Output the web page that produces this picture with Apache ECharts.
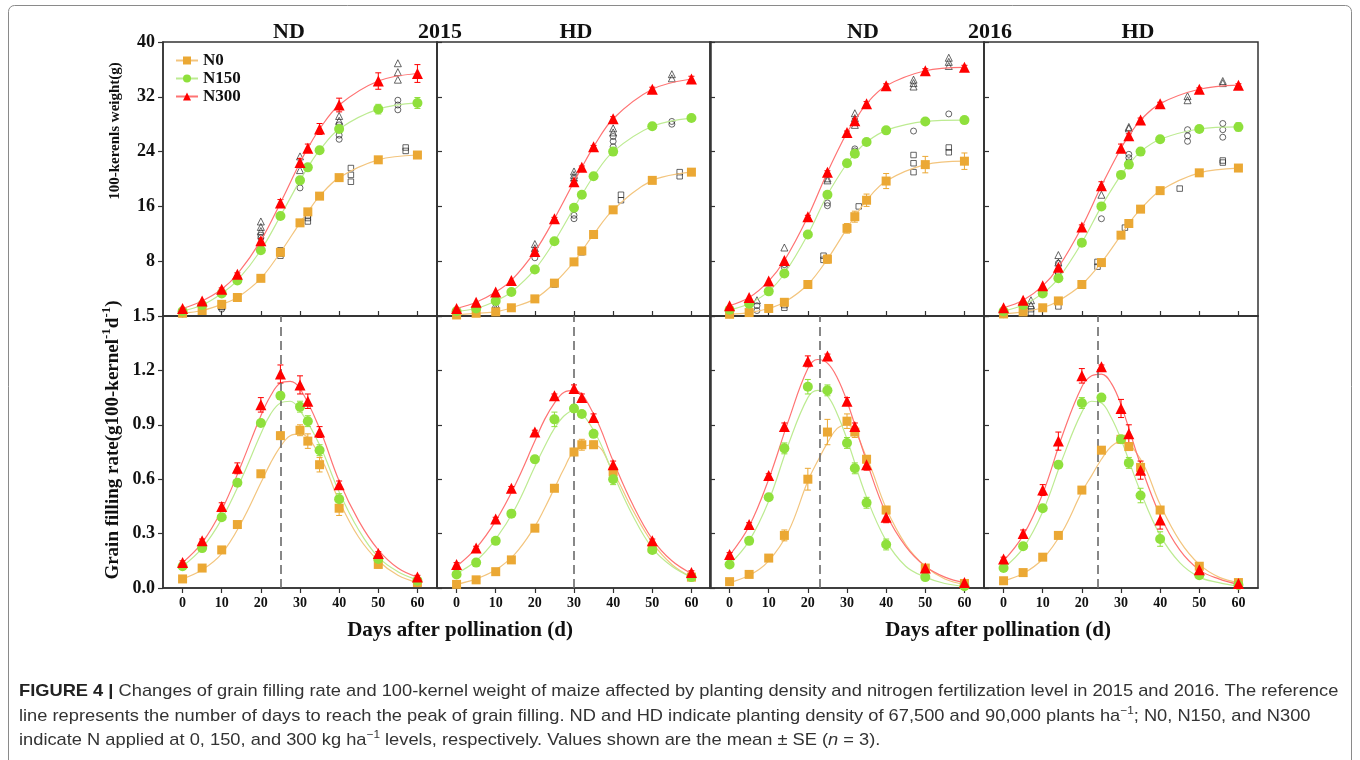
<!DOCTYPE html>
<html>
<head>
<meta charset="utf-8">
<script src="https://cdn.jsdelivr.net/npm/echarts@6/dist/echarts.min.js"></script>
<style>
html,body{margin:0;padding:0;background:#fff;}
#main{width:1360px;height:760px;}
</style>
</head>
<body>
<div id="main"></div>
<script>
// sampling days (markers) and days at which the fitted curves were read
var DAYS = [0, 5, 10, 14, 20, 25, 30, 32, 35, 40, 50, 60];
var CURVE_DAYS = [0, 5, 10, 15, 20, 22.5, 25, 27.5, 30, 35, 40, 45, 50, 55, 60];
var PANEL_TITLES = ['ND', 'HD', 'ND', 'HD'];
var YEARS = ['2015', '2016'];
var PEAK_DAYS = [25, 30, 23, 24];
var DAY_TICKS = [0, 10, 20, 30, 40, 50, 60];

// 100-kernel weight (g); panels: ND2015, HD2015, ND2016, HD2016
var wN0 = [
	[0.4, 0.8, 1.7, 2.7, 5.5, 9.3, 13.6, 15.2, 17.5, 20.2, 22.8, 23.5],
	[0.15, 0.4, 0.6, 1.2, 2.5, 4.8, 7.9, 9.5, 11.9, 15.5, 19.8, 21.0],
	[0.25, 0.5, 1.1, 2.0, 4.6, 8.3, 12.8, 14.5, 16.9, 19.7, 22.1, 22.6],
	[0.3, 0.6, 1.2, 2.2, 4.6, 7.8, 11.8, 13.5, 15.6, 18.3, 20.9, 21.6]
];
var wN150 = [
	[0.7, 1.6, 3.3, 5.2, 9.6, 14.6, 19.8, 21.7, 24.2, 27.3, 30.2, 31.1],
	[0.7, 1.1, 2.2, 3.5, 6.8, 10.9, 15.8, 17.7, 20.4, 24.0, 27.7, 28.9],
	[0.9, 1.8, 3.6, 6.2, 11.9, 17.7, 22.3, 23.7, 25.4, 27.1, 28.4, 28.6],
	[0.7, 1.6, 3.3, 5.5, 10.7, 16.0, 20.6, 22.1, 24.0, 25.8, 27.3, 27.6]
];
var wN300 = [
	[1.1, 2.2, 3.9, 6.1, 11.0, 16.5, 22.4, 24.5, 27.3, 30.8, 34.3, 35.4],
	[1.1, 2.0, 3.5, 5.2, 9.4, 14.2, 19.6, 21.7, 24.7, 28.8, 33.1, 34.6],
	[1.5, 2.7, 5.1, 8.1, 14.5, 21.0, 26.8, 28.5, 31.0, 33.6, 35.8, 36.3],
	[1.2, 2.3, 4.4, 7.1, 13.0, 19.0, 24.5, 26.3, 28.6, 31.0, 33.1, 33.7]
];
// SE of weight
var ewN0 = [
	[0, 0, 0, 0, 0, 0.3, 0.3, 0.4, 0.3, 0.3, 0.4, 0.5],
	[0, 0, 0, 0, 0, 0, 0.2, 0.2, 0.2, 0.2, 0.2, 0.3],
	[0, 0, 0, 0, 0.2, 0.6, 0.7, 0.8, 0.9, 1.1, 1.2, 1.2],
	[0, 0, 0, 0, 0, 0.2, 0.2, 0.2, 0.2, 0.2, 0.2, 0.3]
];
var ewN150 = [
	[0, 0, 0, 0, 0.2, 0.3, 0.4, 0.4, 0.3, 0.5, 0.7, 0.8],
	[0, 0, 0, 0, 0, 0.2, 0.2, 0.2, 0.2, 0.2, 0.2, 0.2],
	[0, 0, 0, 0, 0, 0.2, 0.2, 0.2, 0.2, 0.2, 0.2, 0.2],
	[0, 0, 0, 0, 0, 0.2, 0.2, 0.2, 0.2, 0.2, 0.3, 0.6]
];
var ewN300 = [
	[0, 0, 0.2, 0.2, 0.3, 0.5, 0.6, 0.6, 0.8, 1.0, 1.2, 1.3],
	[0, 0, 0, 0, 0.2, 0.2, 0.2, 0.2, 0.2, 0.3, 0.3, 0.4],
	[0, 0, 0, 0, 0.2, 0.2, 0.2, 0.3, 0.3, 0.3, 0.3, 0.3],
	[0, 0, 0, 0, 0.3, 0.6, 0.6, 0.3, 0.3, 0.2, 0.2, 0.2]
];

// single replicates (hollow marks), [day, weight]
var repTri = [
	[[10, 1.5], [20, 13.8], [20, 13.0], [20, 12.4], [30, 23.3], [30, 22.3], [30, 21.3], [40, 29.2], [40, 28.5], [55, 36.9], [55, 35.6], [55, 34.5]],
	[[10, 1.7], [10, 1.1], [20, 10.5], [20, 9.9], [30, 21.1], [30, 20.6], [30, 20.2], [40, 27.4], [40, 26.8], [55, 35.3], [55, 34.7]],
	[[7, 2.3], [14, 10.0], [25, 20.1], [25, 19.8], [32, 29.6], [32, 28.9], [32, 27.9], [47, 34.5], [47, 34.0], [47, 33.5], [56, 37.7], [56, 37.1], [56, 36.5]],
	[[7, 2.3], [7, 1.6], [14, 8.9], [14, 7.8], [25, 19.1], [25, 17.7], [32, 27.4], [32, 27.6], [47, 32.1], [47, 31.5], [56, 34.3], [56, 34.0]]
];
var repCir = [
	[[0, 0.3], [10, 1.0], [20, 11.8], [20, 11.4], [30, 18.7], [40, 27.9], [40, 27.2], [40, 26.4], [40, 25.8], [55, 31.5], [55, 30.8], [55, 30.1]],
	[[0, 0.3], [20, 8.5], [30, 14.7], [30, 14.2], [40, 26.2], [40, 25.5], [40, 24.7], [55, 28.4], [55, 28.0]],
	[[0, 0.2], [7, 1.5], [7, 0.8], [14, 7.5], [14, 7.1], [25, 17.7], [25, 16.5], [25, 16.1], [32, 24.4], [32, 24.1], [47, 27.0], [56, 29.5]],
	[[0, 0.2], [14, 7.7], [25, 15.9], [25, 14.2], [32, 23.6], [32, 23.1], [32, 22.5], [47, 27.2], [47, 26.3], [47, 25.5], [56, 28.1], [56, 27.2], [56, 26.1]]
];
var repSq = [
	[[10, 1.8], [10, 1.3], [25, 9.6], [25, 9.1], [25, 8.8], [32, 14.7], [32, 14.3], [32, 13.8], [43, 21.6], [43, 20.6], [43, 19.6], [57, 24.6], [57, 24.1]],
	[[10, 0.7], [25, 4.8], [25, 4.6], [32, 9.6], [32, 9.3], [42, 17.7], [42, 16.9], [57, 21.0], [57, 20.4]],
	[[14, 1.6], [14, 1.2], [24, 8.8], [24, 8.2], [33, 16.0], [47, 23.5], [47, 22.3], [47, 21.0], [56, 24.6], [56, 23.9]],
	[[7, 1.0], [7, 0.5], [14, 6.5], [14, 6.2], [14, 1.4], [24, 7.9], [24, 7.2], [31, 12.9], [45, 18.6], [56, 22.7], [56, 22.4]]
];

// grain filling rate (g 100-kernel-1 d-1)
var rN0 = [
	[0.05, 0.11, 0.21, 0.35, 0.63, 0.84, 0.87, 0.81, 0.68, 0.44, 0.13, 0.03],
	[0.02, 0.045, 0.09, 0.155, 0.33, 0.55, 0.75, 0.79, 0.79, 0.64, 0.22, 0.06],
	[0.035, 0.075, 0.165, 0.29, 0.60, 0.86, 0.92, 0.86, 0.71, 0.43, 0.11, 0.025],
	[0.04, 0.085, 0.17, 0.29, 0.54, 0.76, 0.82, 0.78, 0.665, 0.43, 0.12, 0.03]
];
var rN150 = [
	[0.12, 0.22, 0.39, 0.58, 0.91, 1.06, 1.00, 0.92, 0.76, 0.49, 0.16, 0.04],
	[0.075, 0.14, 0.26, 0.41, 0.71, 0.93, 0.99, 0.96, 0.85, 0.60, 0.21, 0.06],
	[0.13, 0.26, 0.50, 0.77, 1.11, 1.09, 0.80, 0.66, 0.47, 0.24, 0.06, 0.01],
	[0.11, 0.23, 0.44, 0.68, 1.02, 1.05, 0.82, 0.69, 0.51, 0.27, 0.07, 0.017]
];
var rN300 = [
	[0.14, 0.26, 0.45, 0.66, 1.01, 1.18, 1.12, 1.03, 0.86, 0.57, 0.19, 0.06],
	[0.13, 0.22, 0.38, 0.55, 0.86, 1.06, 1.10, 1.05, 0.94, 0.68, 0.26, 0.085],
	[0.185, 0.35, 0.62, 0.89, 1.25, 1.28, 1.03, 0.89, 0.68, 0.39, 0.11, 0.03],
	[0.16, 0.30, 0.54, 0.81, 1.17, 1.22, 0.99, 0.85, 0.65, 0.375, 0.10, 0.025]
];
var erN0 = [
	[0.01, 0.01, 0.01, 0.01, 0.01, 0.02, 0.03, 0.04, 0.04, 0.04, 0.02, 0.01],
	[0.01, 0.01, 0.01, 0.01, 0.01, 0.01, 0.02, 0.03, 0.02, 0.02, 0.02, 0.01],
	[0.01, 0.01, 0.01, 0.03, 0.06, 0.07, 0.04, 0.03, 0.02, 0.02, 0.01, 0.01],
	[0.01, 0.01, 0.01, 0.01, 0.01, 0.01, 0.02, 0.01, 0.01, 0.01, 0.01, 0.01]
];
var erN150 = [
	[0.01, 0.01, 0.01, 0.01, 0.01, 0.02, 0.03, 0.03, 0.03, 0.03, 0.02, 0.01],
	[0.01, 0.01, 0.01, 0.01, 0.02, 0.04, 0.02, 0.01, 0.01, 0.03, 0.02, 0.01],
	[0.01, 0.01, 0.01, 0.03, 0.04, 0.03, 0.03, 0.03, 0.03, 0.03, 0.01, 0.01],
	[0.01, 0.01, 0.01, 0.01, 0.03, 0.01, 0.02, 0.03, 0.04, 0.04, 0.01, 0.01]
];
var erN300 = [
	[0.01, 0.01, 0.02, 0.03, 0.04, 0.05, 0.05, 0.04, 0.03, 0.02, 0.01, 0.01],
	[0.01, 0.01, 0.01, 0.01, 0.01, 0.01, 0.02, 0.02, 0.02, 0.02, 0.01, 0.01],
	[0.01, 0.01, 0.01, 0.02, 0.03, 0.01, 0.02, 0.02, 0.03, 0.03, 0.01, 0.01],
	[0.01, 0.02, 0.03, 0.05, 0.04, 0.01, 0.05, 0.05, 0.05, 0.05, 0.02, 0.01]
];
// fitted rate curves read at CURVE_DAYS
var cN0 = [
	[0.05, 0.10, 0.19, 0.36, 0.58, 0.69, 0.78, 0.84, 0.85, 0.73, 0.48, 0.28, 0.15, 0.07, 0.03],
	[0.02, 0.05, 0.10, 0.19, 0.34, 0.44, 0.55, 0.66, 0.75, 0.79, 0.64, 0.43, 0.25, 0.13, 0.06],
	[0.03, 0.07, 0.15, 0.31, 0.59, 0.70, 0.80, 0.88, 0.90, 0.72, 0.44, 0.24, 0.12, 0.05, 0.02],
	[0.04, 0.08, 0.16, 0.31, 0.53, 0.62, 0.71, 0.78, 0.81, 0.71, 0.46, 0.26, 0.13, 0.06, 0.03]
];
var cN150 = [
	[0.12, 0.22, 0.38, 0.60, 0.85, 0.96, 1.02, 1.03, 0.98, 0.79, 0.53, 0.32, 0.17, 0.09, 0.045],
	[0.08, 0.15, 0.27, 0.44, 0.67, 0.78, 0.88, 0.95, 0.98, 0.87, 0.63, 0.40, 0.22, 0.12, 0.06],
	[0.13, 0.26, 0.48, 0.79, 1.05, 1.09, 1.06, 0.96, 0.82, 0.50, 0.26, 0.12, 0.06, 0.025, 0.01],
	[0.11, 0.22, 0.42, 0.71, 0.97, 1.03, 1.02, 0.94, 0.82, 0.53, 0.29, 0.14, 0.06, 0.03, 0.01]
];
var cN300 = [
	[0.14, 0.25, 0.43, 0.68, 0.95, 1.06, 1.13, 1.14, 1.10, 0.88, 0.59, 0.37, 0.21, 0.11, 0.06],
	[0.12, 0.22, 0.37, 0.57, 0.81, 0.93, 1.02, 1.08, 1.09, 0.96, 0.70, 0.46, 0.27, 0.15, 0.08],
	[0.18, 0.34, 0.60, 0.92, 1.21, 1.26, 1.24, 1.16, 1.03, 0.70, 0.41, 0.23, 0.12, 0.06, 0.03],
	[0.15, 0.29, 0.52, 0.84, 1.11, 1.17, 1.18, 1.13, 1.01, 0.68, 0.40, 0.21, 0.10, 0.05, 0.02]
];

var SERIF = "'Liberation Serif', 'Times New Roman', serif";
var SANS = "'Liberation Sans', Arial, sans-serif";
var AXIS_COLOR = '#333';

var TREATS = [
	{name: 'N0', symbol: 'rect', size: 9, color: '#EBA834', line: '#F3C57E', w: wN0, ew: ewN0, r: rN0, er: erN0, c: cN0},
	{name: 'N150', symbol: 'circle', size: 10, color: '#8FE03C', line: '#BDEB92', w: wN150, ew: ewN150, r: rN150, er: erN150, c: cN150},
	{name: 'N300', symbol: 'triangle', size: 11, color: '#FF0000', line: '#FF7373', w: wN300, ew: ewN300, r: rN300, er: erN300, c: cN300}
];

var PANEL_LEFT = [163, 437, 710, 984];
var PANEL_W = 274;
var TOP_Y = 42, MID_Y = 316, BOT_Y = 588;

function pairs(xs, ys) {
	var out = [];
	for (var i = 0; i < xs.length; i++) out.push([xs[i], ys[i]]);
	return out;
}

function errData(ys, es) {
	var out = [];
	for (var i = 0; i < DAYS.length; i++) {
		if (es[i] > 0) out.push([DAYS[i], ys[i] - es[i], ys[i] + es[i]]);
	}
	return out;
}

function errSeries(idx, data, color) {
	return {
		type: 'custom', xAxisIndex: idx, yAxisIndex: idx, data: data, silent: true, z: 3,
		encode: {x: 0, y: [1, 2]},
		renderItem: function (params, api) {
			var x = api.value(0);
			var a = api.coord([x, api.value(2)]), b = api.coord([x, api.value(1)]);
			var st = {stroke: color, lineWidth: 1};
			return {type: 'group', children: [
				{type: 'line', shape: {x1: a[0], y1: a[1], x2: b[0], y2: b[1]}, style: st},
				{type: 'line', shape: {x1: a[0] - 3, y1: a[1], x2: a[0] + 3, y2: a[1]}, style: st},
				{type: 'line', shape: {x1: b[0] - 3, y1: b[1], x2: b[0] + 3, y2: b[1]}, style: st}
			]};
		}
	};
}

function buildOption() {
	var grids = [], xAxes = [], yAxes = [], series = [];

	for (var p = 0; p < 4; p++) {
		var gTop = 2 * p, gBot = 2 * p + 1;
		grids.push({left: PANEL_LEFT[p], top: TOP_Y, width: PANEL_W, height: MID_Y - TOP_Y,
			show: true, borderColor: AXIS_COLOR, borderWidth: 1.5, backgroundColor: 'transparent'});
		grids.push({left: PANEL_LEFT[p], top: MID_Y, width: PANEL_W, height: BOT_Y - MID_Y,
			show: true, borderColor: AXIS_COLOR, borderWidth: 1.5, backgroundColor: 'transparent'});

		// top x axis: inward ticks only
		xAxes.push({
			gridIndex: gTop, type: 'value', min: -5, max: 65,
			axisLine: {onZero: false, lineStyle: {color: AXIS_COLOR, width: 1.5}},
			axisTick: {inside: true, length: 5, customValues: DAY_TICKS, lineStyle: {color: AXIS_COLOR, width: 1.2}},
			axisLabel: {show: false, customValues: DAY_TICKS},
			splitLine: {show: false}
		});
		xAxes.push({
			gridIndex: gBot, type: 'value', min: -5, max: 65,
			axisLine: {onZero: false, lineStyle: {color: AXIS_COLOR, width: 1.5}},
			axisTick: {length: 5, customValues: DAY_TICKS, lineStyle: {color: AXIS_COLOR, width: 1.2}},
			axisLabel: {customValues: DAY_TICKS, margin: 8, color: '#111', fontFamily: SERIF, fontWeight: 'bold', fontSize: 14},
			splitLine: {show: false}
		});

		yAxes.push({
			gridIndex: gTop, type: 'value', min: 0, max: 40, interval: 8,
			axisLine: {show: true, onZero: false, lineStyle: {color: AXIS_COLOR, width: 1.5}},
			axisTick: {inside: p > 0, length: 5, lineStyle: {color: AXIS_COLOR, width: 1.2}},
			axisLabel: {show: p === 0, showMinLabel: false, margin: 8, color: '#111', fontFamily: SERIF, fontWeight: 'bold', fontSize: 18},
			splitLine: {show: false}
		});
		yAxes.push({
			gridIndex: gBot, type: 'value', min: 0, max: 1.5, interval: 0.3,
			axisLine: {show: true, onZero: false, lineStyle: {color: AXIS_COLOR, width: 1.5}},
			axisTick: {inside: p > 0, length: 5, lineStyle: {color: AXIS_COLOR, width: 1.2}},
			axisLabel: {show: p === 0, margin: 8, color: '#111', fontFamily: SERIF, fontWeight: 'bold', fontSize: 18,
				formatter: function (v) { return v.toFixed(1); }},
			splitLine: {show: false}
		});

		// hollow replicate marks (thin outlines)
		var reps = [[repSq[p], 'rect', 5.5], [repCir[p], 'circle', 6], [repTri[p], 'triangle', 7]];
		for (var k = 0; k < reps.length; k++) {
			series.push({
				type: 'scatter', xAxisIndex: gTop, yAxisIndex: gTop, data: reps[k][0], silent: true, z: 4,
				symbol: reps[k][1], symbolSize: reps[k][2],
				itemStyle: {color: 'rgba(255,255,255,0)', borderColor: '#2a2a2a', borderWidth: 0.9}
			});
		}

		for (var t = 0; t < TREATS.length; t++) {
			var tr = TREATS[t];
			// weight
			series.push(errSeries(gTop, errData(tr.w[p], tr.ew[p]), tr.color));
			series.push({
				name: tr.name, type: 'line', xAxisIndex: gTop, yAxisIndex: gTop,
				data: pairs(DAYS, tr.w[p]), smooth: 0.35,
				symbol: tr.symbol, symbolSize: tr.size, showAllSymbol: true,
				itemStyle: {color: tr.color}, lineStyle: {color: tr.line, width: 1.2}, z: 5 + t
			});
			// rate: fitted curve + markers
			var curve = {
				type: 'line', xAxisIndex: gBot, yAxisIndex: gBot,
				data: pairs(CURVE_DAYS, tr.c[p]), smooth: 0.4, showSymbol: false, silent: true,
				lineStyle: {color: tr.line, width: 1.2}, z: 2
			};
			if (t === 0) {
				curve.markLine = {
					silent: true, symbol: 'none', label: {show: false},
					lineStyle: {color: '#6a6a6a', type: [9, 5], width: 1.6},
					data: [{xAxis: PEAK_DAYS[p]}]
				};
			}
			series.push(curve);
			series.push(errSeries(gBot, errData(tr.r[p], tr.er[p]), tr.color));
			series.push({
				name: tr.name, type: 'scatter', xAxisIndex: gBot, yAxisIndex: gBot,
				data: pairs(DAYS, tr.r[p]), symbol: tr.symbol, symbolSize: tr.size,
				itemStyle: {color: tr.color, opacity: 1}, z: 5 + t
			});
		}
	}

	// figure texts
	var graphics = [
		{type: 'rect', shape: {x: 8.5, y: 5.5, width: 1343, height: 770, r: 6}, style: {fill: 'none', stroke: '#8a8a8a', lineWidth: 1}, z: -1}
	];
	var titleX = [289, 576, 863, 1138];
	for (var i = 0; i < 4; i++) {
		graphics.push({type: 'text', x: titleX[i], y: 32, style: {text: PANEL_TITLES[i], align: 'center', verticalAlign: 'middle',
			font: 'bold 22px ' + SERIF, fill: '#111'}});
	}
	graphics.push({type: 'text', x: 440, y: 32, style: {text: YEARS[0], align: 'center', verticalAlign: 'middle', font: 'bold 22px ' + SERIF, fill: '#111'}});
	graphics.push({type: 'text', x: 990, y: 32, style: {text: YEARS[1], align: 'center', verticalAlign: 'middle', font: 'bold 22px ' + SERIF, fill: '#111'}});

	graphics.push({type: 'text', x: 115, y: 131, rotation: Math.PI / 2,
		style: {text: '100-kerenls weight(g)', align: 'center', verticalAlign: 'middle', font: 'bold 15px ' + SERIF, fill: '#111'}});
	graphics.push({type: 'text', x: 113, y: 440, rotation: Math.PI / 2,
		style: {text: 'Grain filling rate(g100-kernel{s|-1}d{s|-1})', align: 'center', verticalAlign: 'middle',
			font: 'bold 19px ' + SERIF, fill: '#111', lineHeight: 26,
			rich: {s: {fontSize: 13, fontWeight: 'bold', fontFamily: SERIF, verticalAlign: 'top', lineHeight: 14, fill: '#111'}}}});

	graphics.push({type: 'text', x: 460, y: 631, style: {text: 'Days after pollination (d)', align: 'center', verticalAlign: 'middle', font: 'bold 21px ' + SERIF, fill: '#111'}});
	graphics.push({type: 'text', x: 998, y: 631, style: {text: 'Days after pollination (d)', align: 'center', verticalAlign: 'middle', font: 'bold 21px ' + SERIF, fill: '#111'}});

	var caption = [
		'{b|FIGURE 4 |} Changes of grain filling rate and 100-kernel weight of maize affected by planting density and nitrogen fertilization level in 2015 and 2016. The reference',
		'line represents the number of days to reach the peak of grain filling. ND and HD indicate planting density of 67,500 and 90,000 plants ha{s|\u22121}; N0, N150, and N300',
		'indicate N applied at 0, 150, and 300 kg ha{s|\u22121} levels, respectively. Values shown are the mean \u00b1 SE ({i|n} = 3).'
	];
	var capY = [691, 716, 740];
	for (var c = 0; c < caption.length; c++) {
		graphics.push({type: 'text', x: 19, y: capY[c], scaleX: 1.075, style: {
			text: caption[c], align: 'left', verticalAlign: 'middle', font: '17px ' + SANS, fill: '#333', lineHeight: 22,
			rich: {
				b: {fontWeight: 'bold', fontSize: 17, fontFamily: SANS, fill: '#222', lineHeight: 22},
				s: {fontSize: 11, fontFamily: SANS, fill: '#333', verticalAlign: 'top', lineHeight: 11},
				i: {fontStyle: 'italic', fontSize: 17, fontFamily: SANS, fill: '#333', lineHeight: 22}
			}
		}});
	}

	return {
		animation: false,
		backgroundColor: '#fff',
		grid: grids,
		xAxis: xAxes,
		yAxis: yAxes,
		legend: {
			data: ['N0', 'N150', 'N300'],
			orient: 'vertical', left: 170, top: 47, itemGap: 1,
			itemWidth: 22, itemHeight: 10,
			textStyle: {fontFamily: SERIF, fontWeight: 'bold', fontSize: 17, color: '#111'}
		},
		series: series,
		graphic: graphics
	};
}

var chart = echarts.init(document.getElementById('main'));
chart.setOption(buildOption());
</script>
</body>
</html>
